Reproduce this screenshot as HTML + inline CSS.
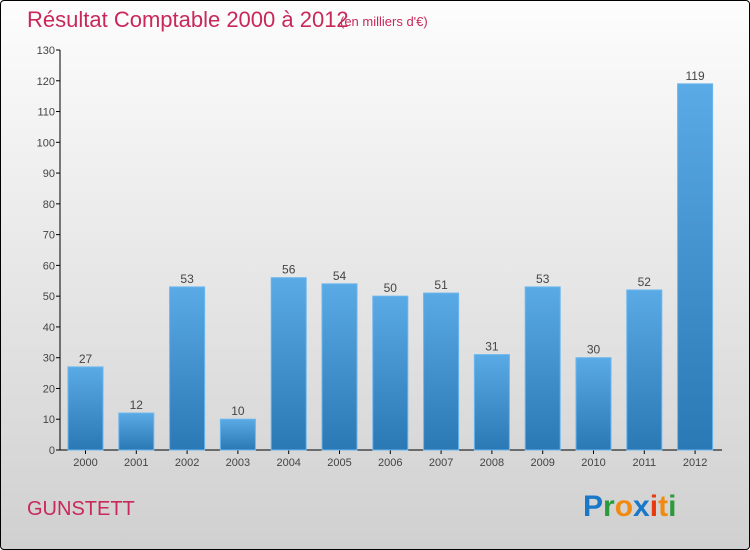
<!DOCTYPE html>
<html><head><meta charset="utf-8"><style>
html,body{margin:0;padding:0}
body{width:750px;height:550px;overflow:hidden;font-family:"Liberation Sans",sans-serif}
#frame{position:absolute;left:0;top:0;width:748px;height:548px;border:1px solid #000;border-radius:4px;background:linear-gradient(#fdfdfd,#d0d0d0)}
</style></head><body>
<div id="frame">
<svg width="750" height="550" style="position:absolute;left:-1px;top:-1px">
<defs><linearGradient id="bg" x1="0" y1="0" x2="0" y2="1"><stop offset="0" stop-color="#5aaae6"/><stop offset="1" stop-color="#2a78b4"/></linearGradient></defs>
<text x="27" y="27" font-size="22" fill="#c8285a">Résultat Comptable 2000 à 2012</text>
<text x="340" y="26" font-size="13" fill="#c8285a">(en milliers d'€)</text>
<text x="27" y="515" font-size="20" fill="#c8285a">GUNSTETT</text>
<g font-size="30" font-weight="bold" font-family="Liberation Sans, sans-serif">
<text x="583" y="516"><tspan fill="#1a78c8">P</tspan><tspan fill="#2a9a3a">r</tspan><tspan fill="#f08a10">o</tspan><tspan fill="#1a78c8">x</tspan><tspan fill="#e83a10">i</tspan><tspan fill="#f08a10">t</tspan><tspan fill="#2a9a3a">i</tspan></text>
</g>
<g id="axes"></g><g id="bars"></g>
</svg></div>
<script>
const categories=["2000","2001","2002","2003","2004","2005","2006","2007","2008","2009","2010","2011","2012"];
const values=[27,12,53,10,56,54,50,51,31,53,30,52,119];
const yTicks=[0,10,20,30,40,50,60,70,80,90,100,110,120,130];
const NS="http://www.w3.org/2000/svg";
const x0=60,y0=450,yTop=50,yMax=130,xStart=85.5,step=50.8,bw=35;
const y=v=>y0-(v/yMax)*(y0-yTop);
const x=i=>xStart+i*step;
function mk(t,a,p){const e=document.createElementNS(NS,t);for(const k in a)e.setAttribute(k,a[k]);p.appendChild(e);return e;}
const ax=document.getElementById('axes'),bg=document.getElementById('bars');
let l=mk('line',{x1:x0,y1:yTop,x2:x0,y2:y0,stroke:'#000'},ax);


l=mk('line',{x1:x0,y1:y0,x2:722,y2:y0,stroke:'#000'},ax);


yTicks.forEach(v=>{
 mk('line',{x1:x0-4,y1:y(v),x2:x0,y2:y(v),stroke:'#000'},ax);
 const t=mk('text',{x:x0-5,y:y(v)+4,'font-size':11,fill:'#444','text-anchor':'end'},ax);
 t.textContent=v;
 
 
});
categories.forEach((c,i)=>{
 const cx=x(i),v=values[i];
 mk('line',{x1:cx,y1:y0,x2:cx,y2:y0+4,stroke:'#000'},ax);
 const t=mk('text',{x:cx,y:y0+16,'font-size':11,fill:'#444','text-anchor':'middle'},ax);
 t.textContent=c;
 
 
 const r=mk('rect',{x:cx-bw/2,y:y(v),width:bw,height:y0-y(v),fill:'url(#bg)',stroke:'#6ab6ee','stroke-width':1},bg);
 
 
 const lb=mk('text',{x:cx,y:y(v)-4,'font-size':12,fill:'#444','text-anchor':'middle'},bg);
 lb.textContent=v;
 
 
});
</script>
</body></html>
